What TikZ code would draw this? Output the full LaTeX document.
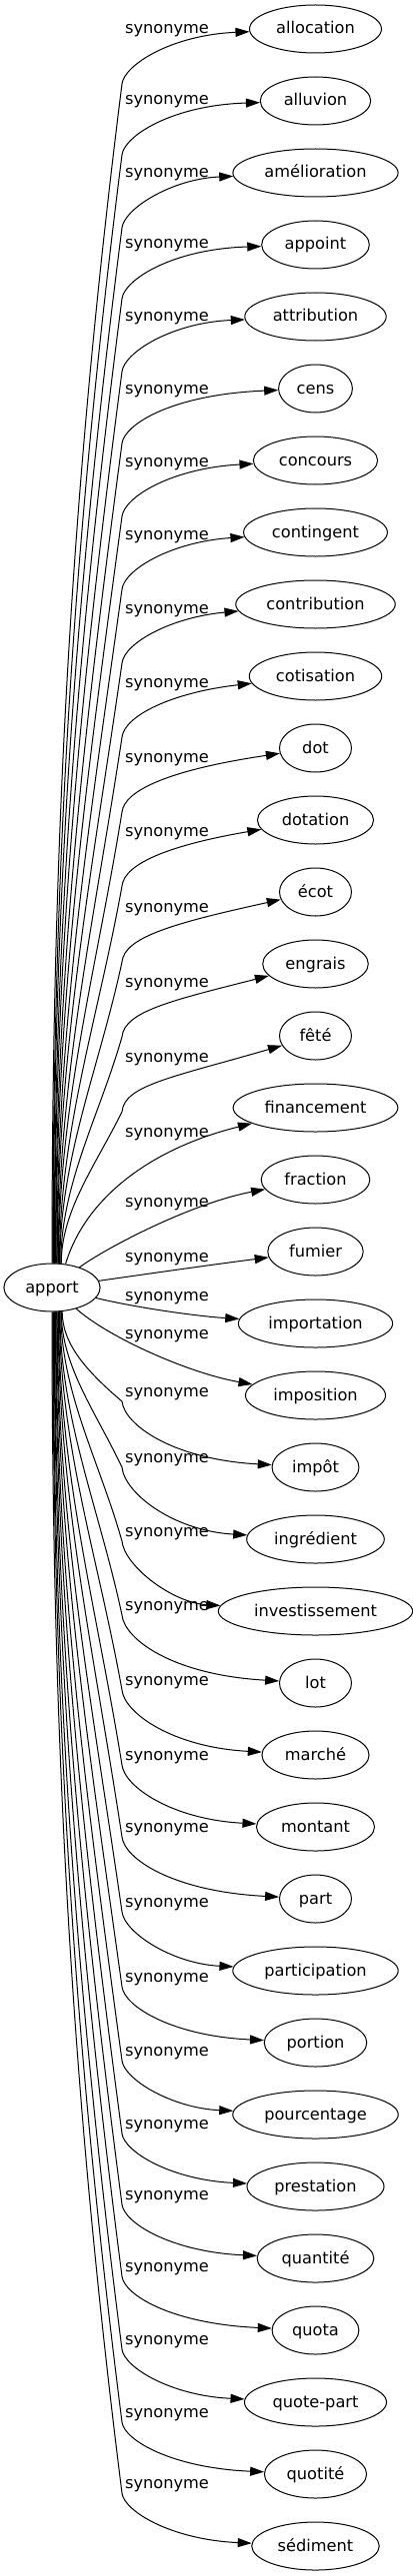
\documentclass[tikz,border=0pt]{standalone}
\usepackage{fontspec}
\setmainfont{DejaVu Sans}
\usetikzlibrary{arrows.meta,calc,shapes.geometric}
\begin{document}
\begin{tikzpicture}[x=1pt,y=-1pt,
  every node/.style={font=\fontsize{16.2}{19}\selectfont, text height=12pt, text depth=2pt},
  tgt/.style={draw, ellipse, line width=1pt, inner xsep=7.3pt, inner ysep=2pt,
              minimum width=72pt, minimum height=48pt},
  lbl/.style={inner sep=0pt},
  edge/.style={line width=1pt, -{Triangle[length=14pt,width=9pt]}}]
\useasboundingbox (0,0) rectangle (412,2579);
\node[tgt] (apport) at (52,1289) {apport};
% upper edges
\foreach \i/\word/\lab in {0/allocation/29, 1/alluvion/100, 2/amélioration/173,
  3/appoint/244, 4/attribution/317, 5/cens/389, 6/concours/462, 7/contingent/535,
  8/contribution/609, 9/cotisation/683, 10/dot/758, 11/dotation/832, 12/écot/908,
  13/engrais/983, 14/fêté/1058}{
  \pgfmathsetmacro\ny{29+72*\i}
  \node[tgt] (t\i) at (315.5,\ny) {\word};
  \node[lbl] (l\i) at (167,\lab) {synonyme};
  \pgfmathsetmacro\ky{\lab+55}
  \pgfmathsetmacro\dy{1265-\ky}
  \pgfmathtruncatemacro\ang{90-1.5*\i}
  \pgfmathsetmacro\cbx{122-0.042*\dy-3000/\dy}
  \pgfmathsetmacro\cby{\ky+0.35*\dy}
  \pgfmathsetmacro\ccy{\ky-0.35*(\ky-\ny)}
  \pgfmathsetmacro\cdy{\lab+6+0.7*(\lab-\ny)}
  \coordinate (k\i) at (122,\ky);
  \draw[edge] (apport.\ang) .. controls ($(apport.\ang)+(0,-0.35*\dy)$) and (\cbx,\cby) .. (k\i)
     .. controls (124.4,\ccy) and (172,\cdy) .. (t\i);
}
% middle edges
\node[tgt] (t15) at (315.5,1109) {financement};
\node[lbl] (l15) at (167,1133) {synonyme};
\draw[edge] (apport.60) .. controls (85,1200) and (150,1150) .. (t15);
\node[tgt] (t16) at (315.5,1181) {fraction};
\node[lbl] (l16) at (167,1203) {synonyme};
\draw[edge] (apport) .. controls (105,1250) and (190,1205) .. (t16);
\node[tgt] (t17) at (315.5,1253) {fumier};
\node[lbl] (l17) at (167,1258) {synonyme};
\draw[edge] (apport) .. controls (150,1275) and (220,1265) .. (t17);
\node[tgt] (t18) at (315.5,1325) {importation};
\node[lbl] (l18) at (167,1297) {synonyme};
\draw[edge] (apport) .. controls (140,1310) and (200,1318) .. (t18);
\node[tgt] (t19) at (315.5,1397) {imposition};
\node[lbl] (l19) at (167,1335) {synonyme};
\draw[edge] (apport) .. controls (110,1340) and (190,1375) .. (t19);
% lower edges
\foreach \i/\word/\lab in {20/impôt/1393, 21/ingrédient/1459, 22/investissement/1533,
  23/lot/1607, 24/marché/1682, 25/montant/1757, 26/part/1829, 27/participation/1904,
  28/portion/1979, 29/pourcentage/2053, 30/prestation/2126, 31/quantité/2197,
  32/quota/2269, 33/quote-part/2342, 34/quotité/2415, 35/sédiment/2486}{
  \pgfmathsetmacro\ny{29+72*\i}
  \node[tgt] (t\i) at (315.5,\ny) {\word};
  \node[lbl] (l\i) at (167,\lab) {synonyme};
  \pgfmathsetmacro\ky{\lab+10}
  \pgfmathsetmacro\dy{\ky-1313}
  \pgfmathtruncatemacro\ang{-90+1.5*(35-\i)}
  \pgfmathsetmacro\cbx{122-0.042*\dy-3000/\dy}
  \pgfmathsetmacro\cby{\ky-0.35*\dy}
  \pgfmathsetmacro\ccy{\ky+0.35*(\ny-\ky)}
  \pgfmathsetmacro\cdy{\ny-0.12*(\ny-\ky)}
  \coordinate (k\i) at (122,\ky);
  \draw[edge] (apport.\ang) .. controls ($(apport.\ang)+(0,0.35*\dy)$) and (\cbx,\cby) .. (k\i)
     .. controls (124.4,\ccy) and (172,\cdy) .. (t\i);
}
\end{tikzpicture}
\end{document}
